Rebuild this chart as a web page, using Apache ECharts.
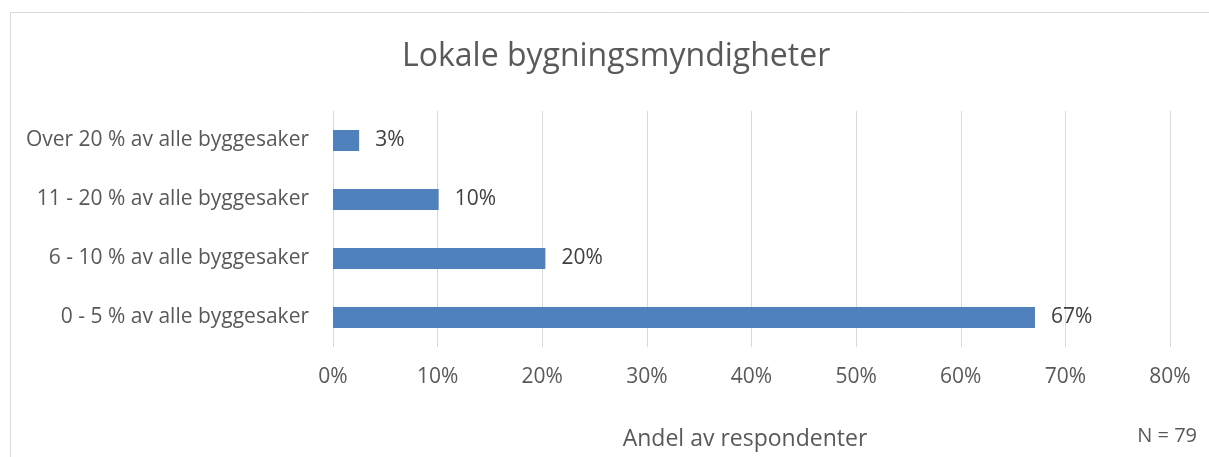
<!DOCTYPE html>
<html lang="no">
<head>
  <meta charset="UTF-8">
  <title>Lokale bygningsmyndigheter</title>
  <script src="https://cdn.jsdelivr.net/npm/echarts@6/dist/echarts.min.js"></script>
  <style>
    html, body { margin: 0; padding: 0; background: #fff; }
    #chart { width: 1209px; height: 457px; }
  </style>
</head>
<body>
  <div id="chart"></div>
  <script>
    // data (share of respondents, %)
    const categories = [
      '0 - 5 % av alle byggesaker',
      '6 - 10 % av alle byggesaker',
      '11 - 20 % av alle byggesaker',
      'Over 20 % av alle byggesaker'
    ]
    const values = [67.1, 20.3, 10.1, 2.5]
    const titleText = 'Lokale bygningsmyndigheter'
    const axisTitle = 'Andel av respondenter'
    const noteText = 'N = 79'

    const font = '"Open Sans", "Noto Sans", sans-serif'
    const gray = '#595959'

    const myChart = echarts.init(document.getElementById('chart'))

    myChart.setOption({
      animation: false,
      textStyle: { fontFamily: font },
      title: {
        text: titleText,
        left: 397,
        top: 36,
        textStyle: { color: gray, fontSize: 32, fontWeight: 'normal', fontFamily: font }
      },
      graphic: [
        {
          type: 'rect',
          shape: { x: 10.5, y: 12.5, width: 1400, height: 600 },
          style: { fill: 'none', stroke: '#d9d9d9', lineWidth: 1 },
          silent: true
        },
        {
          type: 'text',
          x: 745,
          y: 439,
          style: {
            text: axisTitle, fill: gray, fontSize: 23, fontFamily: font,
            align: 'center', verticalAlign: 'middle'
          }
        },
        {
          type: 'text',
          right: 12,
          top: 426,
          style: { text: noteText, fill: gray, fontSize: 20, fontFamily: font }
        }
      ],
      grid: {
        left: 333,
        right: 39,
        top: 111,
        bottom: 110,
        containLabel: false
      },
      xAxis: {
        type: 'value',
        min: 0,
        max: 80,
        interval: 10,
        axisLine: { show: false },
        axisTick: { show: false },
        axisLabel: {
          formatter: '{value}%',
          color: gray,
          fontSize: 21,
          margin: 20
        },
        splitLine: { lineStyle: { color: '#d9d9d9', width: 1 } }
      },
      yAxis: {
        type: 'category',
        data: categories,
        axisLine: { show: false },
        axisTick: { show: false },
        axisLabel: { color: gray, fontSize: 21, margin: 24, padding: [4, 0, 0, 0] }
      },
      series: [
        {
          type: 'bar',
          data: values,
          barWidth: 21,
          itemStyle: { color: '#4f81bd' },
          label: {
            show: true,
            position: 'right',
            distance: 16,
            color: '#404040',
            fontSize: 21,
            padding: [4, 0, 0, 0],
            formatter: p => Math.round(p.value) + '%'
          }
        }
      ]
    })
  </script>
</body>
</html>
